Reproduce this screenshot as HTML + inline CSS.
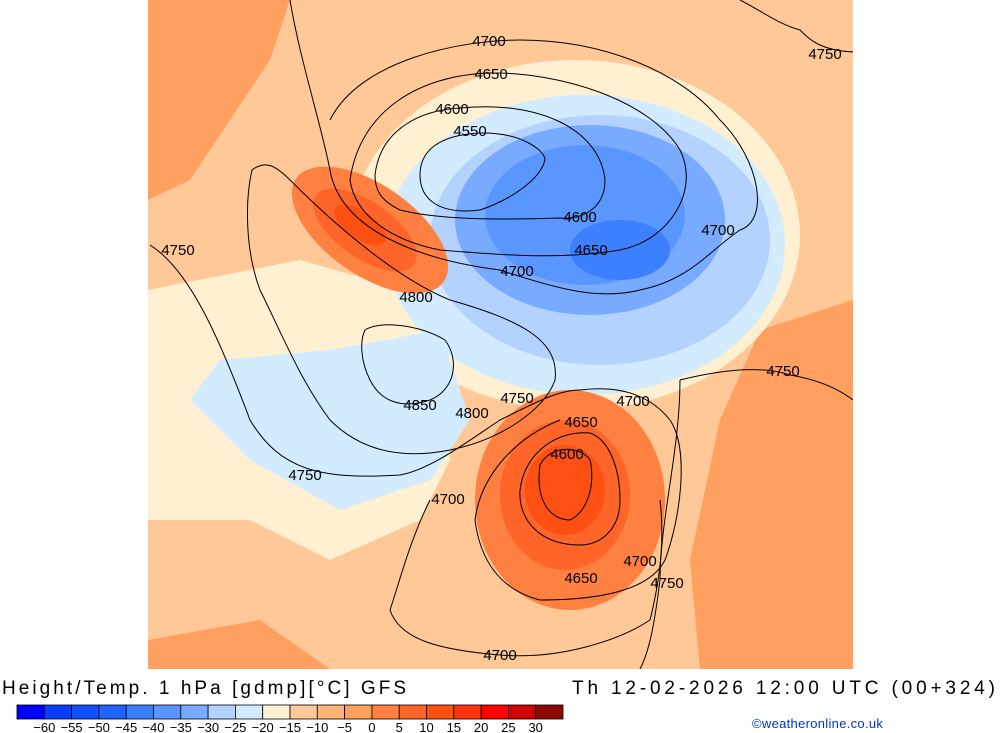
<!DOCTYPE html>
<html><head><meta charset="utf-8"><style>
body{margin:0;width:1000px;height:733px;background:#fff;overflow:hidden;font-family:"Liberation Sans",sans-serif;position:relative}
#map{position:absolute;left:148px;top:0}
.t{position:absolute;font-size:19px;color:#000;white-space:nowrap}
</style></head><body>
<svg id="map" width="705" height="669" viewBox="148 0 705 669">
<rect x="148" y="0" width="705" height="669" fill="#ffc896"/>
<g>
<path d="M148 0 L290 0 L270 60 L230 120 L190 180 L148 200 Z" fill="#ffa060"/>
<path d="M760 330 L853 300 L853 669 L700 669 L690 560 L720 420 Z" fill="#ffa060"/>
<path d="M148 640 L260 620 L330 669 L148 669Z" fill="#ffa060"/>
<path d="M148 290 L300 260 L440 300 L450 460 L420 520 L330 560 L250 520 L148 520 Z" fill="#fff0d2"/>
<ellipse cx="575" cy="235" rx="225" ry="175" fill="#fff0d2"/>
<ellipse cx="585" cy="245" rx="200" ry="150" fill="#d2ebff"/>
<path d="M220 360 L330 350 L440 330 L470 420 L430 480 L340 510 L250 460 L190 400 Z" fill="#d2ebff"/>
<ellipse cx="600" cy="240" rx="170" ry="125" fill="#b4d2ff"/>
<ellipse cx="590" cy="220" rx="135" ry="95" fill="#78aaff"/>
<ellipse cx="585" cy="215" rx="100" ry="70" fill="#5a96ff"/>
<ellipse cx="620" cy="250" rx="50" ry="30" fill="#3c80ff"/>
<ellipse cx="370" cy="230" rx="90" ry="45" transform="rotate(35 370 230)" fill="#ff8040"/>
<ellipse cx="365" cy="230" rx="60" ry="28" transform="rotate(35 365 230)" fill="#ff6428"/>
<ellipse cx="360" cy="225" rx="30" ry="14" transform="rotate(35 360 225)" fill="#ff5014"/>
<ellipse cx="570" cy="500" rx="95" ry="110" fill="#ff8040"/>
<ellipse cx="565" cy="495" rx="65" ry="75" fill="#ff6428"/>
<ellipse cx="565" cy="490" rx="40" ry="45" fill="#ff5014"/>
</g>
<g fill="none" stroke="#000" stroke-width="1">
<path d="M290 0 C300 60 320 120 330 170 C340 230 420 260 500 270 C560 290 600 300 640 290 C690 280 710 250 740 230 C770 220 760 160 720 120 C680 70 600 40 520 40 C460 40 360 60 330 120"/>
<path d="M350 180 C360 110 420 75 490 73 C560 72 650 100 680 150 C700 190 670 240 620 250 C560 260 500 255 440 250 C390 240 355 215 350 180Z"/>
<path d="M375 175 C380 130 420 110 460 108 C540 100 600 130 605 180 C605 210 580 220 560 218 C500 220 440 220 400 210 C380 200 375 190 375 175Z"/>
<path d="M420 175 C420 150 440 135 480 133 C520 132 545 150 545 160 C540 180 510 200 480 210 C440 215 420 200 420 175Z"/>
<path d="M252 170 C265 160 275 165 290 180 C340 230 400 280 450 300 C520 320 560 340 555 380 C545 410 500 440 450 450 C400 460 360 450 330 420 C300 380 280 330 260 290 C245 250 245 200 252 170Z"/>
<path d="M365 330 C380 320 420 325 445 340 C460 360 455 390 430 400 C400 410 380 400 370 380 C360 360 360 340 365 330Z"/>
<path d="M150 245 C190 270 220 340 250 420 C280 470 320 480 400 475 C430 470 470 440 500 420 C540 400 560 390 580 390 C620 385 650 395 670 420 C690 450 680 520 665 560 C650 590 600 600 540 600 C500 590 480 560 475 520 C480 480 510 440 560 420"/>
<path d="M430 500 C410 540 400 580 390 610 C400 640 440 650 500 655 C560 660 620 640 650 620 C660 580 665 540 660 500"/>
<path d="M520 490 C525 450 560 430 590 433 C610 440 620 470 620 500 C620 530 600 545 580 545 C540 545 518 520 520 490Z"/>
<path d="M540 465 C550 445 580 445 590 460 C595 480 590 510 570 520 C550 520 535 500 540 465Z"/>
<path d="M680 380 C720 370 760 365 790 375 C820 380 840 390 853 400 M680 380 C680 450 660 520 660 580 C655 620 650 650 640 669"/>
<path d="M740 0 C760 10 780 25 800 30 C810 40 820 50 853 52"/>
</g>
<g font-family="Liberation Sans,sans-serif" font-size="15" fill="#000">
<g text-anchor="middle">
<text x="489" y="46">4700</text><text x="491" y="79">4650</text><text x="452" y="114">4600</text><text x="470" y="136">4550</text>
<text x="580" y="222">4600</text><text x="591" y="255">4650</text><text x="517" y="276">4700</text><text x="718" y="235">4700</text>
<text x="825" y="59">4750</text><text x="178" y="255">4750</text><text x="416" y="302">4800</text><text x="420" y="410">4850</text>
<text x="472" y="418">4800</text><text x="517" y="403">4750</text><text x="633" y="406">4700</text><text x="581" y="427">4650</text>
<text x="567" y="459">4600</text><text x="305" y="480">4750</text><text x="448" y="504">4700</text><text x="640" y="566">4700</text>
<text x="581" y="583">4650</text><text x="667" y="588">4750</text><text x="783" y="376">4750</text><text x="500" y="660">4700</text>
</g></g>
</svg>
<div class="t" style="left:2px;top:678px;letter-spacing:3.05px">Height/Temp. 1 hPa [gdmp][°C] GFS</div>
<div class="t" style="left:572px;top:678px;letter-spacing:3.85px">Th 12-02-2026 12:00 UTC (00+324)</div>
<svg style="position:absolute;left:0;top:700px" width="600" height="33" id="cb"></svg>
<div style="position:absolute;left:752px;top:716px;font-size:13px;letter-spacing:0.3px;color:#0033cc">©weatheronline.co.uk</div>
<script>
const cbColors=["#0000ff","#0a3cff","#1050ff","#2064ff","#3c80ff","#5a96ff","#78aaff","#b4d2ff","#d2ebff","#fff0d2","#ffc896","#ffb478","#ffa060","#ff8040","#ff6428","#ff5014","#ff3210","#ff0000","#d20000","#8c0a00"];
const cbLabels=["-60","-55","-50","-45","-40","-35","-30","-25","-20","-15","-10","-5","0","5","10","15","20","25","30"];
const ns="http://www.w3.org/2000/svg",cb=document.getElementById('cb');
const x0=17,w=27.3;
cbColors.forEach((c,i)=>{const r=document.createElementNS(ns,'rect');
r.setAttribute('x',x0+i*w);r.setAttribute('y',5);r.setAttribute('width',w);r.setAttribute('height',14);
r.setAttribute('fill',c);r.setAttribute('stroke','#000');r.setAttribute('stroke-width','0.8');


cb.appendChild(r);});
cbLabels.forEach((l,i)=>{const t=document.createElementNS(ns,'text');
t.setAttribute('x',x0+(i+1)*w);t.setAttribute('y',32);t.setAttribute('text-anchor','middle');
t.setAttribute('font-size','13');t.setAttribute('font-family','Liberation Sans,sans-serif');t.textContent=l.replace('-','\u2212');


cb.appendChild(t);});
</script>
</body></html>
